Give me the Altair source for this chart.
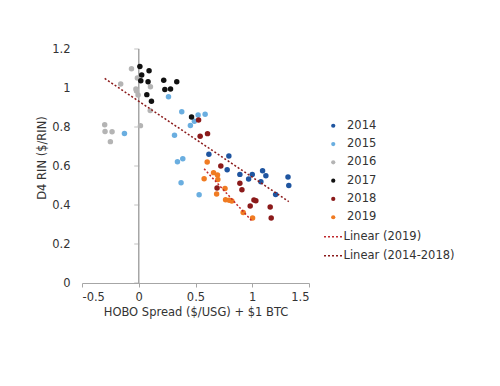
import altair as alt
import pandas as pd

years = ["2014", "2015", "2016", "2017", "2018", "2019"]
colors = ["#1f55a0", "#6aaee0", "#b4b4b4", "#111111", "#8b1a1a", "#f07b22"]

x_2014 = [0.618, 0.794, 0.779, 0.891, 1.0, 1.091, 1.12, 0.968, 1.076, 1.315, 1.322, 1.206]
y_2014 = [0.66, 0.651, 0.581, 0.557, 0.557, 0.576, 0.55, 0.533, 0.519, 0.544, 0.5, 0.454]
x_2015 = [-0.126, 0.262, 0.379, 0.523, 0.585, 0.49, 0.455, 0.315, 0.388, 0.341, 0.373, 0.532]
y_2015 = [0.767, 0.955, 0.878, 0.861, 0.865, 0.829, 0.808, 0.758, 0.637, 0.622, 0.514, 0.453]
x_2016 = [-0.064, -0.159, -0.012, -0.025, -0.02, -0.006, 0.103, 0.101, 0.015, -0.30, -0.297, -0.235, -0.25]
y_2016 = [1.099, 1.02, 1.051, 0.995, 0.985, 0.964, 1.006, 0.884, 0.807, 0.812, 0.777, 0.776, 0.725]
x_2017 = [0.01, 0.091, 0.026, 0.018, 0.082, 0.22, 0.335, 0.23, 0.28, 0.071, 0.112, 0.465]
y_2017 = [1.11, 1.089, 1.067, 1.037, 1.032, 1.04, 1.032, 0.992, 0.995, 0.966, 0.932, 0.851]
x_2018 = [0.527, 0.541, 0.606, 0.723, 0.891, 0.69, 0.909, 1.015, 1.032, 0.982, 1.158, 1.167]
y_2018 = [0.836, 0.752, 0.766, 0.6, 0.511, 0.487, 0.478, 0.426, 0.422, 0.395, 0.39, 0.333]
x_2019 = [0.603, 0.659, 0.694, 0.576, 0.697, 0.76, 0.686, 0.765, 0.797, 0.82, 0.92, 1.003]
y_2019 = [0.621, 0.566, 0.554, 0.535, 0.531, 0.485, 0.456, 0.427, 0.424, 0.42, 0.362, 0.333]

x_ticks = [-0.5, 0, 0.5, 1, 1.5]
y_ticks = [0, 0.2, 0.4, 0.6, 0.8, 1.0, 1.2]
trend_names = ["Linear (2019)", "Linear (2014-2018)"]
trend_colors = ["#c0282d", "#8b1a1a"]

xs = [x_2014, x_2015, x_2016, x_2017, x_2018, x_2019]
ys = [y_2014, y_2015, y_2016, y_2017, y_2018, y_2019]
rows = []
for yr, xl, yl in zip(years, xs, ys):
    for a, b in zip(xl, yl):
        rows.append({"x": a, "y": b, "year": yr})
df = pd.DataFrame(rows)

fmt = "datum.value < 0 ? '-' + format(-datum.value, '.1~f') : format(datum.value, '.1~f')"

xscale = alt.Scale(domain=[-0.5, 1.5], nice=False, zero=False)
yscale = alt.Scale(domain=[0, 1.2], nice=False)

xaxis = alt.Axis(values=x_ticks, labelExpr=fmt, title="HOBO Spread ($/USG) + $1 BTC",
                 grid=False, domainColor="#a6a6a6", tickColor="#a6a6a6", tickSize=4,
                 labelPadding=4, titlePadding=4, labelOverlap=False)
yaxis = alt.Axis(values=y_ticks, labelExpr=fmt, title="D4 RIN ($/RIN)", grid=False,
                 domain=False, ticks=False, labelPadding=12, titleX=-35, titleY=108.5,
                 labelOverlap=False)

points = alt.Chart(df).mark_circle(size=30, opacity=1).encode(
    x=alt.X("x:Q", scale=xscale, axis=xaxis),
    y=alt.Y("y:Q", scale=yscale, axis=yaxis),
    color=alt.Color("year:N", scale=alt.Scale(domain=years, range=colors),
                    legend=alt.Legend(title=None, orient="none", legendX=245.5, legendY=71,
                                      symbolType="circle", symbolSize=18, rowPadding=5.3,
                                      labelOffset=8, padding=0)),
    order=alt.Order("year:N"),
)

vline = alt.Chart(pd.DataFrame({"x": [0], "y": [0], "y2": [1.2]})).mark_rule(
    color="#a6a6a6", strokeWidth=1.5
).encode(
    x=alt.X("x:Q", scale=xscale, axis=xaxis),
    y=alt.Y("y:Q", scale=yscale, axis=yaxis),
    y2="y2:Q",
)

yt = alt.Chart(pd.DataFrame({"y": y_ticks, "x": [0] * len(y_ticks)})).mark_tick(
    orient="horizontal", size=5, thickness=1, color="#a6a6a6", xOffset=-2
).encode(x=alt.X("x:Q", scale=xscale, axis=xaxis), y=alt.Y("y:Q", scale=yscale, axis=yaxis))

stroke_scale = alt.Scale(domain=trend_names, range=trend_colors)
stroke_legend = alt.Legend(title=None, orient="none", legendX=241, legendY=177.7,
                           symbolType="stroke", symbolSize=324, symbolStrokeWidth=1.5,
                           symbolDash=[2, 2], rowPadding=3, labelOffset=0.5, padding=0)

trend_a = alt.Chart(df).transform_filter(
    alt.FieldOneOfPredicate(field="year", oneOf=["2014", "2015", "2016", "2017", "2018"])
).transform_regression("x", "y").transform_calculate(
    series="'Linear (2014-2018)'"
).mark_line(strokeDash=[2, 2], strokeWidth=1.5).encode(
    x=alt.X("x:Q", scale=xscale, axis=xaxis), y=alt.Y("y:Q", scale=yscale, axis=yaxis),
    stroke=alt.Stroke("series:N", scale=stroke_scale, legend=stroke_legend),
)

trend_b = alt.Chart(df).transform_filter(
    alt.FieldEqualPredicate(field="year", equal="2019")
).transform_regression("x", "y").transform_calculate(
    series="'Linear (2019)'"
).mark_line(strokeDash=[2, 2], strokeWidth=1.5).encode(
    x=alt.X("x:Q", scale=xscale, axis=xaxis), y=alt.Y("y:Q", scale=yscale, axis=yaxis),
    stroke=alt.Stroke("series:N", scale=stroke_scale, legend=stroke_legend),
)

chart = alt.layer(vline, yt, points, trend_a, trend_b).properties(
    width=227, height=234,
    autosize=alt.AutoSizeParams(type="none"),
    padding={"left": 74, "top": 41, "right": 183, "bottom": 95},
).configure(font="DejaVu Sans").configure_view(strokeWidth=0).configure_axis(
    labelFontSize=11.5, titleFontSize=11.5, titleFontWeight="normal",
    labelColor="#333333", titleColor="#333333", labelOverlap=False,
).configure_legend(labelFontSize=11.5, labelColor="#333333")

chart.save("out.html", embed_options={"renderer": "svg", "actions": False})
